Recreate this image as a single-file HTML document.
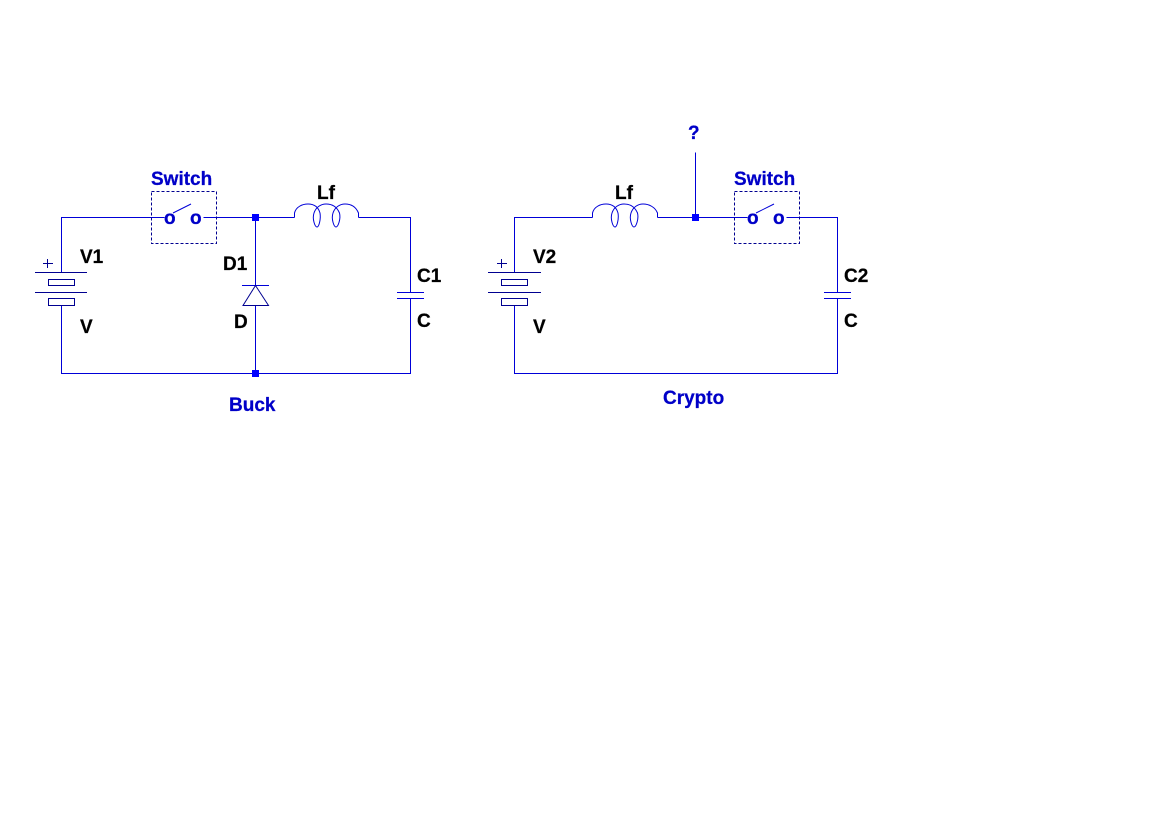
<!DOCTYPE html>
<html>
<head>
<meta charset="utf-8">
<style>
html,body{margin:0;padding:0;background:#fff;width:1166px;height:823px;overflow:hidden}
svg{display:block}
text{font-family:"Liberation Sans",Arial,sans-serif;font-weight:bold;font-size:19px;stroke-width:.25}
.b{fill:#0000c8;stroke:#0000c8}
.k{fill:#000;stroke:#000}
.w{stroke:#0000d8;stroke-width:1;fill:none;shape-rendering:crispEdges}
.n{stroke:#000090;stroke-width:1;fill:none;shape-rendering:crispEdges}
.d{stroke:#000090;stroke-width:1;fill:none;stroke-dasharray:3 2;shape-rendering:crispEdges}
.c{stroke:#0000d8;stroke-width:1;fill:none}
.j{fill:#0000ff}
</style>
</head>
<body>
<svg width="1166" height="823" viewBox="0 0 1166 823" xmlns="http://www.w3.org/2000/svg">
<rect width="1166" height="823" fill="#fff"/>

<!-- Buck -->
<path class="w" d="M164.5 217.5H61.5V272.5M61.5 305.5V373.5H410.5V298.5M410.5 292.5V217.5H358.5M294.5 217.5H203.5M255.5 217.5V285.5M255.5 305.5V373.5"/>
<path class="n" d="M35 272.5H87M35 292.5H87M48.5 279.5H74.5V285.5H48.5ZM48.5 298.5H74.5V305.5H48.5Z"/>
<path class="n" d="M43 263.5H53M47.5 259V268"/>
<rect class="d" x="151.5" y="191.5" width="65" height="52"/>
<path class="c" d="M173 213L191 204"/>
<text class="b" x="164" y="224">o</text>
<text class="b" x="190" y="224">o</text>
<path class="w" d="M242 285.5H269"/>
<path class="n" d="M255.5 285.5L243 305.5H268.5Z" style="shape-rendering:auto"/>
<path class="w" d="M397 292.5H424M397 298.5H424"/>
<path class="c" d="M294.5 217.5V213C296 207,302 204,308 204C313 204,318 206,320 213C321 219,319 227,317 227C315 227,312 219,314 213C316 207,321 204,326 204C332 204,337 207,339.5 213C341 219,338 227,336 227C334 227,331 219,333 213C335 207,340 204,345 204C351 204,356 207,358.5 213V217.5"/>
<rect class="j" x="252" y="214" width="7" height="7"/>
<rect class="j" x="252" y="370" width="7" height="7"/>

<text class="b" x="151" y="185">Switch</text>
<text class="k" x="80" y="263">V1</text>
<text class="k" x="80" y="333">V</text>
<text class="k" x="223" y="270">D1</text>
<text class="k" x="234" y="328">D</text>
<text class="k" x="317" y="199">Lf</text>
<text class="k" x="417" y="282">C1</text>
<text class="k" x="417" y="327">C</text>
<text class="b" x="229" y="411">Buck</text>

<!-- Crypto -->
<path class="w" d="M592.5 217.5H514.5V272.5M514.5 305.5V373.5H837.5V298.5M837.5 292.5V217.5H786.5M747.5 217.5H657.5M695.5 152.5V217.5"/>
<path class="n" d="M488 272.5H541M488 292.5H541M501.5 279.5H527.5V285.5H501.5ZM501.5 298.5H527.5V305.5H501.5Z"/>
<path class="n" d="M497 263.5H507M501.5 259V268"/>
<rect class="d" x="734.5" y="191.5" width="65" height="52"/>
<path class="c" d="M756 213L774 204"/>
<text class="b" x="747" y="224">o</text>
<text class="b" x="773" y="224">o</text>
<path class="w" d="M824 292.5H851M824 298.5H851"/>
<path class="c" d="M592.5 217.5V213C594 207,600 204,606 204C611 204,616 206,618 213C619 219,617 227,615 227C613 227,610 219,612 213C614 207,619 204,624 204C630 204,635 207,637.5 213C639 219,636 227,634 227C632 227,629 219,631 213C633 207,638 204,643 204C649 204,655 207,657.5 213V217.5"/>
<rect class="j" x="692" y="214" width="7" height="7"/>

<text class="b" x="688" y="139">?</text>
<text class="b" x="734" y="185">Switch</text>
<text class="k" x="533" y="263">V2</text>
<text class="k" x="533" y="333">V</text>
<text class="k" x="615" y="199">Lf</text>
<text class="k" x="844" y="282">C2</text>
<text class="k" x="844" y="327">C</text>
<text class="b" x="663" y="404">Crypto</text>
</svg>
</body>
</html>
